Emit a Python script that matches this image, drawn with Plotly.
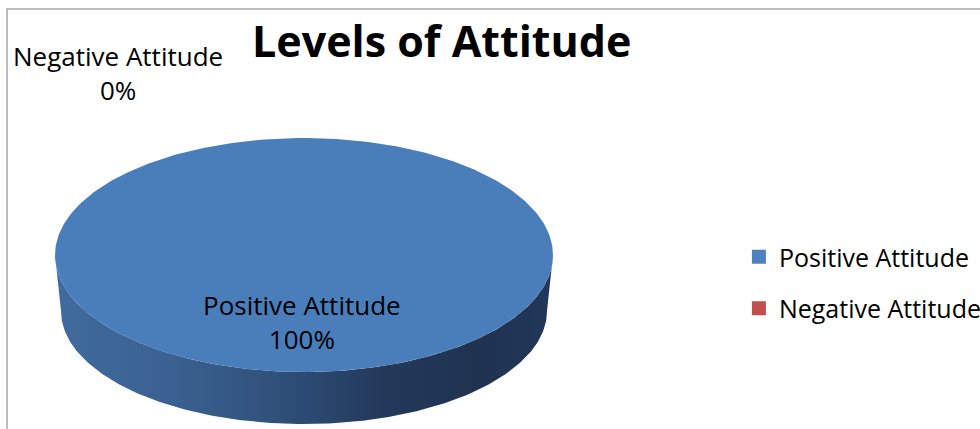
import numpy as np
import plotly.graph_objects as go

# ---- data ----
categories = ["Positive Attitude", "Negative Attitude"]
values = [100, 0]
colors = ["#4a7ebb", "#c0504d"]
legend_colors = ["#4f81bd", "#c0504d"]
title_text = "Levels of Attitude"

# ---- layout geometry (pixel space) ----
W, H = 980, 429
cx, cy, rx, ry = 304, 255, 249, 117          # top face ellipse
cx2, cy2, rx2, ry2 = 304, 311, 243, 113      # bottom ellipse
FONT = "Open Sans"

total = float(sum(values))
fig = go.Figure()

def arc(t0, t1, cxx, cyy, rxx, ryy, n=200):
    t = np.radians(np.linspace(t0, t1, n))
    return cxx + rxx * np.cos(t), cyy + ryy * np.sin(t)

cum = 0.0
slices = []
for cat, v, col in zip(categories, values, colors):
    a0 = -90 + 360 * cum / total
    cum += v
    a1 = -90 + 360 * cum / total
    slices.append((cat, v, col, a0, a1))

# sides (front visible part, t in [0,180] with y pointing down)
for cat, v, col, a0, a1 in slices:
    if a1 <= a0:
        continue
    for shift in (-360, 0, 360):
        s0, s1 = max(a0 + shift, 0), min(a1 + shift, 180)
        if s1 > s0:
            xt, yt = arc(s0, s1, cx, cy, rx, ry)
            xb, yb = arc(s1, s0, cx2, cy2, rx2, ry2)
            fig.add_trace(go.Scatter(
                x=np.concatenate([xt, xb, xt[:1]]),
                y=np.concatenate([yt, yb, yt[:1]]),
                mode="lines", fill="toself", line=dict(width=0),
                fillgradient=dict(type="horizontal", colorscale=[
                    [0, "#416b9e"], [0.25, "#3a6090"], [0.45, "#2f5079"],
                    [0.65, "#233a5c"], [0.85, "#1f3250"], [1, "#22375a"]]),
                hoverinfo="skip", showlegend=False))

# top faces
for cat, v, col, a0, a1 in slices:
    if a1 <= a0:
        continue
    xa, ya = arc(a0, a1, cx, cy, rx, ry, 400)
    fig.add_trace(go.Scatter(
        x=np.concatenate([[cx], xa, [cx]]), y=np.concatenate([[cy], ya, [cy]]),
        mode="lines", fill="toself", fillcolor=col, line=dict(width=0),
        hoverinfo="skip", showlegend=False))

# legend entries
for i, (cat, lc) in enumerate(zip(categories, legend_colors)):
    fig.add_trace(go.Scatter(
        x=[None], y=[None], mode="markers", name=cat, legendgroup=cat,
        marker=dict(symbol="square", size=14, color=lc)))

# data labels
label_pos = {"Positive Attitude": (302, 322), "Negative Attitude": (118, 73)}
for cat, v, col, a0, a1 in slices:
    pct = round(100 * v / total)
    lx, ly = label_pos[cat]
    fig.add_annotation(x=lx, y=ly, text=f"{cat}<br>{pct}%", showarrow=False,
                       font=dict(family=FONT, size=26, color="#000000"),
                       xanchor="center", yanchor="middle", align="center")

fig.add_annotation(x=441, y=40, text=f"<b>{title_text}</b>", showarrow=False,
                   font=dict(family=FONT, size=43, color="#000000"),
                   xanchor="center", yanchor="middle")

# chart frame
fig.add_shape(type="rect", x0=7, y0=9, x1=1000, y1=450,
              line=dict(color="#a6a6a6", width=1.5), layer="below")

fig.update_layout(
    width=W, height=H, margin=dict(l=0, r=0, t=0, b=0, autoexpand=False),
    paper_bgcolor="white", plot_bgcolor="white",
    xaxis=dict(range=[0, W], visible=False, fixedrange=True, automargin=False),
    yaxis=dict(range=[H, 0], visible=False, fixedrange=True, automargin=False),
    showlegend=True,
    legend=dict(x=0.754, y=1 - 234 / H, xanchor="left", yanchor="top",
                font=dict(family=FONT, size=25, color="#000000"),
                tracegroupgap=16, bgcolor="rgba(0,0,0,0)"),
)

fig.write_html("out.html")
